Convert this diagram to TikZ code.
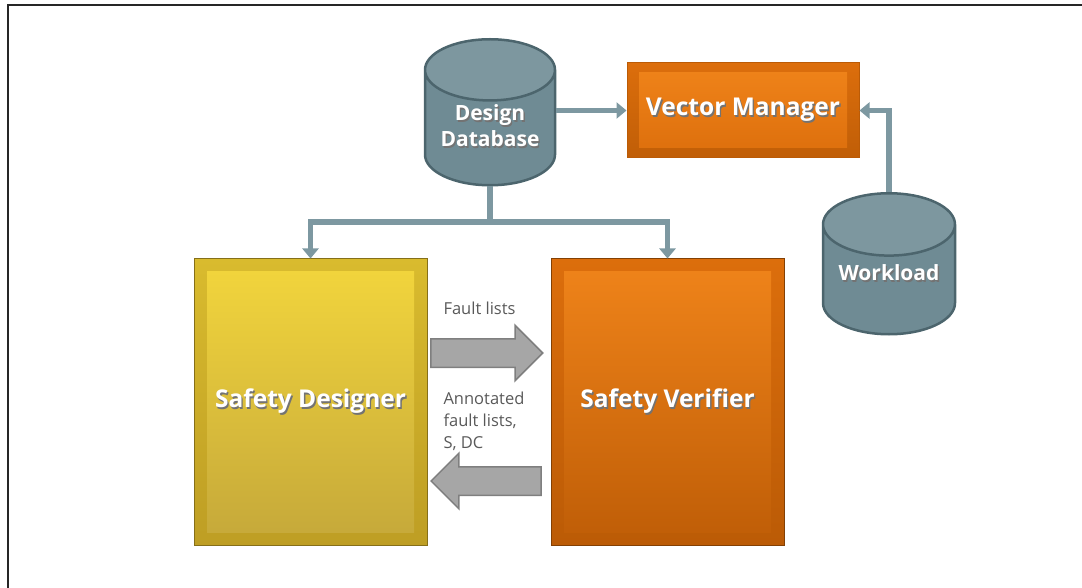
\documentclass[tikz,border=0pt]{standalone}
\usepackage{fontspec}
\setmainfont{Open Sans}
\usetikzlibrary{positioning,shapes.geometric,shapes.arrows,arrows.meta}

\definecolor{dbfill}{HTML}{6F8B94}
\definecolor{dbline}{HTML}{4C656D}
\definecolor{linkc}{HTML}{7D98A1}
\definecolor{ylwout}{HTML}{D9BB2E}
\definecolor{ylwin}{HTML}{F3D63C}
\definecolor{ylwbot}{HTML}{BE9E24}
\definecolor{orgout}{HTML}{DC6E0C}
\definecolor{orgin}{HTML}{F0841A}
\definecolor{orgbot}{HTML}{BB5B06}
\definecolor{fatfill}{HTML}{A6A6A6}
\definecolor{fatline}{HTML}{7F7F7F}
\definecolor{lbl}{HTML}{595959}

% white text with a dark drop shadow
\newcommand{\shtxt}[1]{\makebox[0pt][l]{\textcolor{black!55}{\hspace{1.4pt}\raisebox{-1.4pt}{#1}}}#1}

\tikzset{
  db/.style={cylinder, shape border rotate=90, aspect=0.58, draw=dbline, line width=2.5pt,
    cylinder uses custom fill, cylinder body fill=dbfill, cylinder end fill=dbfill!90!white,
    text=white, align=center, anchor=north, font=\bfseries\fontsize{21}{26}\selectfont},
  tool/.style={rectangle, draw=#1, line width=1pt, text=white,
    font=\bfseries\fontsize{24.5}{28}\selectfont},
  link/.style={draw=linkc, line width=5.5pt, -{Triangle[width=16pt,length=10pt]}},
  fat/.style={single arrow, single arrow head extend=13.5pt, single arrow head indent=0pt,
    inner sep=13.5pt, fill=fatfill, draw=fatline, line width=1.5pt},
  note/.style={text=lbl, font=\fontsize{16.5}{22}\selectfont, align=left, anchor=west}
}

\begin{document}
\begin{tikzpicture}[x=1pt,y=-1pt]
\useasboundingbox (0,0) rectangle (1082,588);
\draw[line width=2pt, black!85] (1082,5.5) -- (8,5.5) -- (8,588);

\node[db, minimum width=130pt, minimum height=145pt] (design) at (490,38) {\shtxt{Design}\\\shtxt{Database}\rule[-14pt]{0pt}{0pt}};
\node[db, minimum width=132pt, minimum height=141pt] (work) at (889,192) {\shtxt{Workload}\rule[-24pt]{0pt}{0pt}};

\node[tool=orgbot, minimum width=232pt, minimum height=95pt, top color=orgout, bottom color=orgbot!85!orgout,
  path picture={\shade[top color=orgin, bottom color=orgout]
    ([shift={(12pt,10pt)}]path picture bounding box.south west) rectangle
    ([shift={(-12pt,-10pt)}]path picture bounding box.north east);}]
  (vecmgr) at (743,110.5) {\shtxt{Vector Manager}};

\node[tool=ylwbot!70!black, minimum width=233pt, minimum height=286pt, top color=ylwout, bottom color=ylwbot,
  path picture={\shade[top color=ylwin, bottom color=ylwbot!90!white]
    ([shift={(13pt,13pt)}]path picture bounding box.south west) rectangle
    ([shift={(-13pt,-13pt)}]path picture bounding box.north east);}]
  (designer) at (310.5,402) {\shtxt{Safety Designer}};

\node[tool=orgbot!70!black, minimum width=233pt, minimum height=286pt, top color=orgout, bottom color=orgbot,
  path picture={\shade[top color=orgin, bottom color=orgbot!90!orgout]
    ([shift={(13pt,13pt)}]path picture bounding box.south west) rectangle
    ([shift={(-13pt,-13pt)}]path picture bounding box.north east);}]
  (verifier) at (667.5,402) {\shtxt{Safety Verifier}};

% design data flow
\draw[link] (design.east |- vecmgr.west) -- (vecmgr.west);
\draw[link] (work.north) |- (vecmgr.east);
\draw[draw=linkc, line width=5.5pt] (design.south) -- (design.south |- 0,222) coordinate (split);
\draw[link] (split) -| (designer.north);
\draw[link] (split) -| (verifier.north);
\fill[linkc] (split) circle (2.75pt);

% exchange between designer and verifier
\node[fat, minimum height=112pt, anchor=tail] (fwd) at (430,353) {};
\node[fat, minimum height=110pt, shape border rotate=180, anchor=tip] (back) at (430,481) {};
\node[note] (fwdlbl) at (440,308) {Fault lists};
\node[note] (backlbl) at (440,421) {Annotated\\fault lists,\\S, DC};
\end{tikzpicture}
\end{document}
